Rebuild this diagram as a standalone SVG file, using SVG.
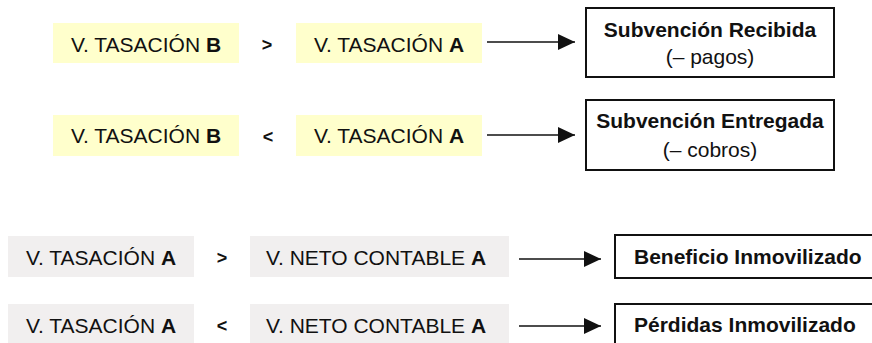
<svg xmlns="http://www.w3.org/2000/svg" width="872" height="343" viewBox="0 0 872 343">
  <style>
    text { font-family: "Liberation Sans", Arial, sans-serif; font-size: 21px; fill: #111; }
    .b { font-weight: bold; }
    .mid { text-anchor: middle; }
    .op { font-weight: bold; font-size: 18px; text-anchor: middle; }
    .yel { fill: #FFFFCC; }
    .gry { fill: #F1EFEF; }
    .res { fill: #fff; stroke: #111; stroke-width: 2; }
    .conn { stroke: #111; stroke-width: 1.6; fill: none; marker-end: url(#arrow); }
  </style>
  <defs>
    <marker id="arrow" markerUnits="userSpaceOnUse" markerWidth="18" markerHeight="18" refX="17" refY="8" orient="auto">
      <path d="M0,0 L17,8 L0,16 Z" fill="#111"/>
    </marker>
  </defs>

  <rect width="872" height="343" fill="#fff"/>

  <!-- Subsidy comparison: valuation B vs valuation A -->
  <g id="tasacion-b-1">
    <rect class="yel" x="53" y="23" width="186" height="40"/>
    <text class="mid" x="146" y="52">V. TASACIÓN <tspan class="b">B</tspan></text>
  </g>
  <text class="op" x="267" y="51">&gt;</text>
  <g id="tasacion-a-1">
    <rect class="yel" x="296" y="23" width="186" height="40"/>
    <text class="mid" x="389" y="52">V. TASACIÓN <tspan class="b">A</tspan></text>
  </g>
  <g id="subvencion-recibida">
    <rect class="res" x="586" y="8" width="248" height="69"/>
    <text class="mid b" x="710" y="37">Subvención Recibida</text>
    <text class="mid" x="710" y="64">(– pagos)</text>
  </g>

  <g id="tasacion-b-2">
    <rect class="yel" x="53" y="115" width="186" height="41"/>
    <text class="mid" x="146" y="143">V. TASACIÓN <tspan class="b">B</tspan></text>
  </g>
  <text class="op" x="268" y="143">&lt;</text>
  <g id="tasacion-a-2">
    <rect class="yel" x="296" y="115" width="186" height="41"/>
    <text class="mid" x="389" y="143">V. TASACIÓN <tspan class="b">A</tspan></text>
  </g>
  <g id="subvencion-entregada">
    <rect class="res" x="586" y="100" width="248" height="70"/>
    <text class="mid b" x="710" y="128">Subvención Entregada</text>
    <text class="mid" x="710" y="157">(– cobros)</text>
  </g>

  <!-- Disposal result: valuation A vs net book value A -->
  <g id="tasacion-a-3">
    <rect class="gry" x="8" y="236" width="186" height="41"/>
    <text class="mid" x="101" y="265">V. TASACIÓN <tspan class="b">A</tspan></text>
  </g>
  <text class="op" x="222" y="264">&gt;</text>
  <g id="neto-contable-1">
    <rect class="gry" x="250" y="236" width="259" height="41"/>
    <text class="mid" x="376" y="265">V. NETO CONTABLE <tspan class="b">A</tspan></text>
  </g>
  <g id="beneficio">
    <rect class="res" x="615" y="235" width="262" height="43"/>
    <text class="b" x="634" y="264">Beneficio Inmovilizado</text>
  </g>

  <g id="tasacion-a-4">
    <rect class="gry" x="8" y="304" width="186" height="42"/>
    <text class="mid" x="101" y="333">V. TASACIÓN <tspan class="b">A</tspan></text>
  </g>
  <text class="op" x="222" y="332">&lt;</text>
  <g id="neto-contable-2">
    <rect class="gry" x="250" y="304" width="259" height="42"/>
    <text class="mid" x="376" y="333">V. NETO CONTABLE <tspan class="b">A</tspan></text>
  </g>
  <g id="perdidas">
    <rect class="res" x="615" y="304" width="262" height="45"/>
    <text class="b" x="634" y="332">Pérdidas Inmovilizado</text>
  </g>

  <g id="connectors">
    <line class="conn" x1="487" y1="42" x2="575" y2="42"/>
    <line class="conn" x1="487" y1="135" x2="575" y2="135"/>
    <line class="conn" x1="519" y1="259" x2="601" y2="259"/>
    <line class="conn" x1="519" y1="326" x2="601" y2="326"/>
  </g>
</svg>
